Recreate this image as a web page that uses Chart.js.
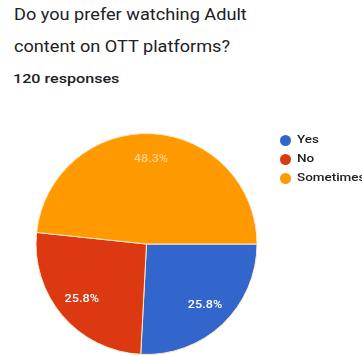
<!DOCTYPE html>
<html>
<head>
<meta charset="utf-8">
<script src="https://cdn.jsdelivr.net/npm/chart.js@4.4.0/dist/chart.umd.min.js"></script>
<style>
  html, body { margin: 0; padding: 0; background: #ffffff; }
  body { width: 362px; height: 356px; position: relative; overflow: hidden; font-family: Roboto, "Noto Sans", sans-serif; }
  .txt { position: absolute; white-space: nowrap; transform-origin: 0 0; color: #202124; }
  #title1 { left: 14px; top: 3px; font-size: 16.5px; line-height: 24px; transform: scaleX(1.1); }
  #title2 { left: 14px; top: 35px; font-size: 16.5px; line-height: 24px; transform: scaleX(1.1); }
  #sub { left: 13px; top: 70px; font-size: 13px; line-height: 18px; font-weight: 500; transform: scaleX(1.24); }
  #chartBox { position: absolute; left: 0; top: 0; width: 362px; height: 356px; }
  #legend { position: absolute; left: 279px; top: 132px; }
  .item { position: absolute; left: 0; height: 16px; white-space: nowrap; }
  .dot { position: absolute; left: 1px; top: 3px; width: 11px; height: 11px; border-radius: 50%; }
  .lab { position: absolute; left: 18px; top: 0; font-size: 10.5px; line-height: 16px; font-weight: 500; color: #222222; transform-origin: 0 0; transform: scaleX(1.28); }
</style>
</head>
<body>
<div class="txt" id="title1">Do you prefer watching Adult</div>
<div class="txt" id="title2">content on OTT platforms?</div>
<div class="txt" id="sub">120 responses</div>
<div id="chartBox"><canvas id="c"></canvas></div>
<div id="legend"></div>
<script>
// Survey answers and response counts (120 responses)
const categories = ['Yes', 'No', 'Sometimes'];
const responses = [31, 31, 58];
const percentLabels = ['25.8%', '25.8%', '48.3%'];
const sliceColors = ['#3366cc', '#dc3912', '#ff9900'];

// Legend built from the same category list
const legend = document.getElementById('legend');
categories.forEach((name, i) => {
  const item = document.createElement('div');
  item.className = 'item';
  item.style.top = (i * 19) + 'px';
  item.innerHTML = '<span class="dot" style="background:' + sliceColors[i] + '"></span><span class="lab"></span>';
  item.querySelector('.lab').textContent = name;
  legend.appendChild(item);
});

// Percentage labels drawn inside each slice
const sliceLabels = {
  id: 'sliceLabels',
  afterDatasetsDraw(chart) {
    const ctx = chart.ctx;
    const meta = chart.getDatasetMeta(0);
    ctx.save();
    ctx.font = '500 11px Roboto, sans-serif';
    ctx.textAlign = 'center';
    ctx.textBaseline = 'middle';
    meta.data.forEach((arc, i) => {
      const p = arc.getProps(['x', 'y', 'startAngle', 'endAngle', 'outerRadius'], true);
      const mid = (p.startAngle + p.endAngle) / 2;
      const r = p.outerRadius * 0.77;
      const x = p.x + Math.cos(mid) * r;
      const y = p.y + Math.sin(mid) * r;
      ctx.fillStyle = i === 2 ? 'rgba(255,255,255,0.55)' : '#ffffff';
      ctx.save();
      ctx.translate(x, y);
      ctx.scale(1.15, 1);
      ctx.fillText(percentLabels[i], 0, 0);
      ctx.restore();
    });
    ctx.restore();
  }
};

new Chart(document.getElementById('c'), {
  type: 'pie',
  data: {
    labels: categories,
    datasets: [{
      data: responses,
      backgroundColor: sliceColors,
      borderColor: '#ffe9c8',
      borderWidth: 1
    }]
  },
  options: {
    responsive: true,
    maintainAspectRatio: false,
    animation: false,
    rotation: 90,
    layout: { padding: { left: 35, right: 104, top: 133, bottom: 1 } },
    plugins: {
      legend: { display: false },
      tooltip: { enabled: false }
    }
  },
  plugins: [sliceLabels]
});
</script>
</body>
</html>
